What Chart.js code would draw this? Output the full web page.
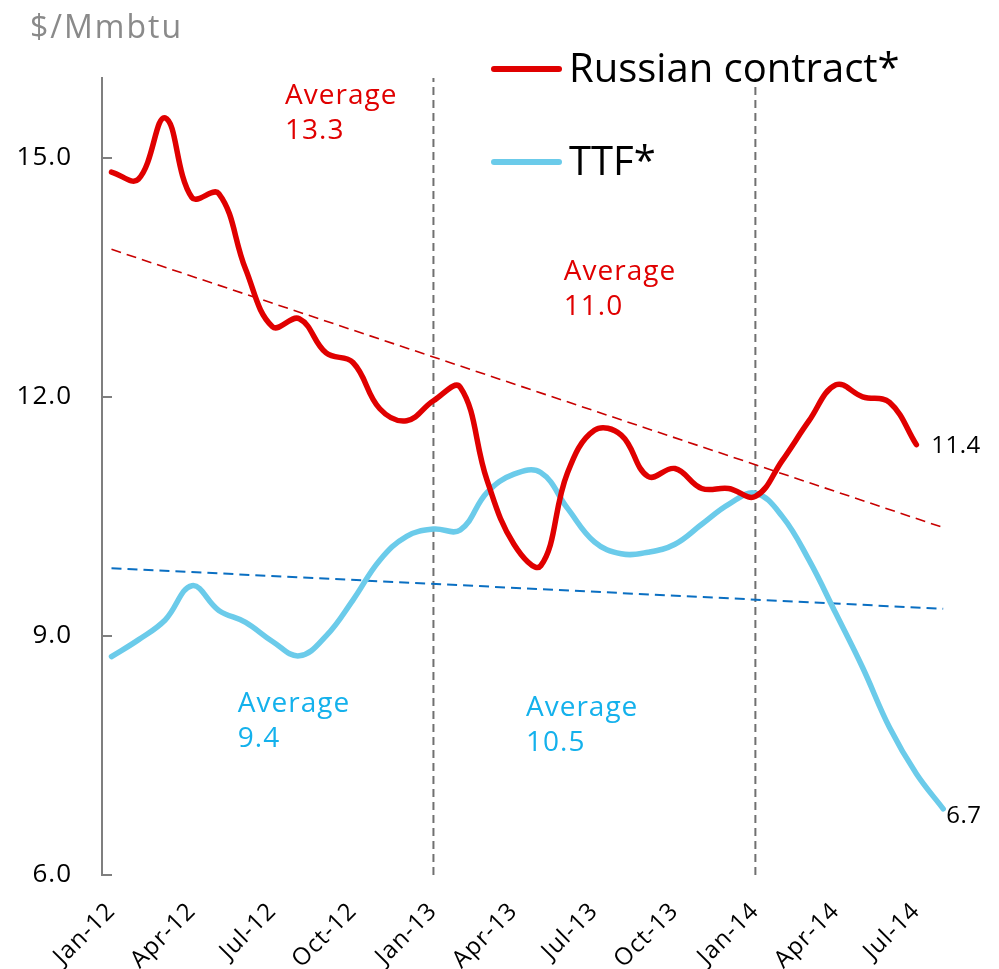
<!DOCTYPE html>
<html>
<head>
<meta charset="utf-8">
<script src="https://cdn.jsdelivr.net/npm/chart.js@4.4.1/dist/chart.umd.min.js"></script>
<style>
  html, body { margin: 0; padding: 0; background: #fff; }
</style>
</head>
<body>
<canvas id="chart" width="999" height="969"></canvas>
<script>
// months from Jan-12, index = month number
const months = ["Jan-12","Feb-12","Mar-12","Apr-12","May-12","Jun-12","Jul-12","Aug-12","Sep-12","Oct-12","Nov-12","Dec-12",
  "Jan-13","Feb-13","Mar-13","Apr-13","May-13","Jun-13","Jul-13","Aug-13","Sep-13","Oct-13","Nov-13","Dec-13",
  "Jan-14","Feb-14","Mar-14","Apr-14","May-14","Jun-14","Jul-14","Aug-14"];
const tickMonths = [0, 3, 6, 9, 12, 15, 18, 21, 24, 27, 30];
const yTicks = [6, 9, 12, 15];

const russian = [14.82, 14.73, 15.5, 14.5, 14.55, 13.6, 12.88, 12.98, 12.55, 12.43, 11.85, 11.7,
  11.95, 12.12, 10.95, 10.15, 9.88, 11.05, 11.58, 11.52, 11.0, 11.1, 10.85, 10.85,
  10.75, 11.2, 11.7, 12.15, 12.0, 11.93, 11.4];
const ttf = [8.74, 8.95, 9.2, 9.63, 9.32, 9.17, 8.93, 8.75, 9.0, 9.45, 9.95, 10.25,
  10.34, 10.33, 10.8, 11.03, 11.05, 10.6, 10.18, 10.03, 10.05, 10.15, 10.4, 10.65,
  10.79, 10.5, 9.95, 9.28, 8.6, 7.85, 7.27, 6.83];

// linear trends, first and last month
const russianTrend = [13.85, 10.36];
const ttfTrend = [9.85, 9.34];
const periodBreaks = [12, 24];
const russianAverages = ["13.3", "11.0"];
const ttfAverages = ["9.4", "10.5"];
const endLabels = ["11.4", "6.7"];

const RED = "#e00000";
const BLUE = "#6bcbea";
const BLUE_TEXT = "#14b1ec";
const FONT = "'Open Sans', 'DejaVu Sans', sans-serif";

const pts = arr => arr.map((v, i) => ({ x: i, y: v }));
const trend = (t, last) => [{ x: 0, y: t[0] }, { x: last, y: t[1] }];

const datasets = [
  { label: "Russian contract*", data: pts(russian), borderColor: RED, borderWidth: 5.5,
    tension: 0.4, pointRadius: 0, borderCapStyle: "round", legend: true, order: 1 },
  { label: "TTF*", data: pts(ttf), borderColor: BLUE, borderWidth: 5.5,
    tension: 0.4, pointRadius: 0, borderCapStyle: "round", legend: true, order: 2 },
  { label: "russian trend", data: trend(russianTrend, months.length - 1), borderColor: "#c80000",
    borderWidth: 1.6, borderDash: [10, 6], pointRadius: 0, order: 3 },
  { label: "ttf trend", data: trend(ttfTrend, months.length - 1), borderColor: "#0a6fc2",
    borderWidth: 2, borderDash: [10, 6], pointRadius: 0, order: 3 }
];
periodBreaks.forEach(m => datasets.push({
  label: "break", data: [{ x: m, y: 6 }, { x: m, y: 16 }], borderColor: "#707070",
  borderWidth: 2, borderDash: [8, 5], pointRadius: 0, order: 4
}));

function text(ctx, str, x, y, font, color, spacing) {
  ctx.font = font;
  ctx.fillStyle = color;
  ctx.letterSpacing = spacing || "0px";
  ctx.textAlign = "left";
  ctx.textBaseline = "alphabetic";
  ctx.fillText(str, x, y);
}

const decor = {
  id: "decor",
  beforeDraw(chart) {
    chart.ctx.letterSpacing = "1px";
  },
  afterDraw(chart) {
    const ctx = chart.ctx;
    const xs = chart.scales.x, ys = chart.scales.y;
    const area = chart.chartArea;
    ctx.save();

    // inward tick marks on the y axis
    ctx.strokeStyle = "#7f7f7f";
    ctx.lineWidth = 2;
    yTicks.forEach(v => {
      const py = Math.round(ys.getPixelForValue(v));
      ctx.beginPath();
      ctx.moveTo(area.left, py);
      ctx.lineTo(area.left + 10, py);
      ctx.stroke();
    });

    // unit title
    text(ctx, "$/Mmbtu", 30, 38, "32px " + FONT, "#8a8a8a", "2px");

    // legend
    chart.data.datasets.filter(d => d.legend).forEach((d, i) => {
      const y = 69 + i * 93;
      ctx.strokeStyle = d.borderColor;
      ctx.lineWidth = 6;
      ctx.lineCap = "round";
      ctx.beginPath();
      ctx.moveTo(494, y);
      ctx.lineTo(559, y);
      ctx.stroke();
      text(ctx, d.label, 569, y + 13, "40px " + FONT, "#000", "0px");
    });

    // period averages
    const avgFont = "28px " + FONT;
    const avg = (val, m, v, color) => {
      const px = xs.getPixelForValue(m), py = ys.getPixelForValue(v);
      text(ctx, "Average", px, py, avgFont, color, "1px");
      text(ctx, val, px, py + 35, avgFont, color, "1px");
    };
    avg(russianAverages[0], 6.47, 15.68, RED);
    avg(russianAverages[1], 16.86, 13.47, RED);
    avg(ttfAverages[0], 4.71, 8.04, BLUE_TEXT);
    avg(ttfAverages[1], 15.45, 7.99, BLUE_TEXT);

    // end values
    const lastR = russian.length - 1, lastT = ttf.length - 1;
    text(ctx, endLabels[0], xs.getPixelForValue(lastR) + 15, ys.getPixelForValue(russian[lastR]) + 8,
      "24px " + FONT, "#000", "0.5px");
    text(ctx, endLabels[1], xs.getPixelForValue(lastT) + 3, ys.getPixelForValue(ttf[lastT]) + 14,
      "24px " + FONT, "#000", "0.5px");

    ctx.restore();
    ctx.letterSpacing = "0px";
  }
};

new Chart(document.getElementById("chart"), {
  type: "line",
  data: { datasets },
  plugins: [decor],
  options: {
    responsive: false,
    animation: false,
    events: [],
    layout: { padding: { left: 12, right: 44, top: 78, bottom: 0 } },
    plugins: { legend: { display: false }, tooltip: { enabled: false } },
    scales: {
      x: {
        type: "linear",
        min: -0.354,
        max: 31.44,
        afterBuildTicks: s => { s.ticks = tickMonths.map(v => ({ value: v })); },
        afterFit: s => { s.height = 94; },
        grid: { display: false, drawTicks: false },
        border: { display: false },
        ticks: {
          autoSkip: false,
          maxRotation: 45,
          minRotation: 45,
          padding: 22,
          color: "#000",
          font: { family: FONT, size: 24 },
          callback: v => months[v]
        }
      },
      y: {
        min: 6,
        max: 16,
        afterBuildTicks: s => { s.ticks = yTicks.map(v => ({ value: v })); },
        afterFit: s => { s.width = 90; },
        grid: { display: false, drawTicks: false },
        border: { display: true, color: "#7f7f7f", width: 2 },
        ticks: {
          padding: 30,
          color: "#000",
          font: { family: FONT, size: 26 },
          callback: v => v.toFixed(1)
        }
      }
    }
  }
});
</script>
</body>
</html>
